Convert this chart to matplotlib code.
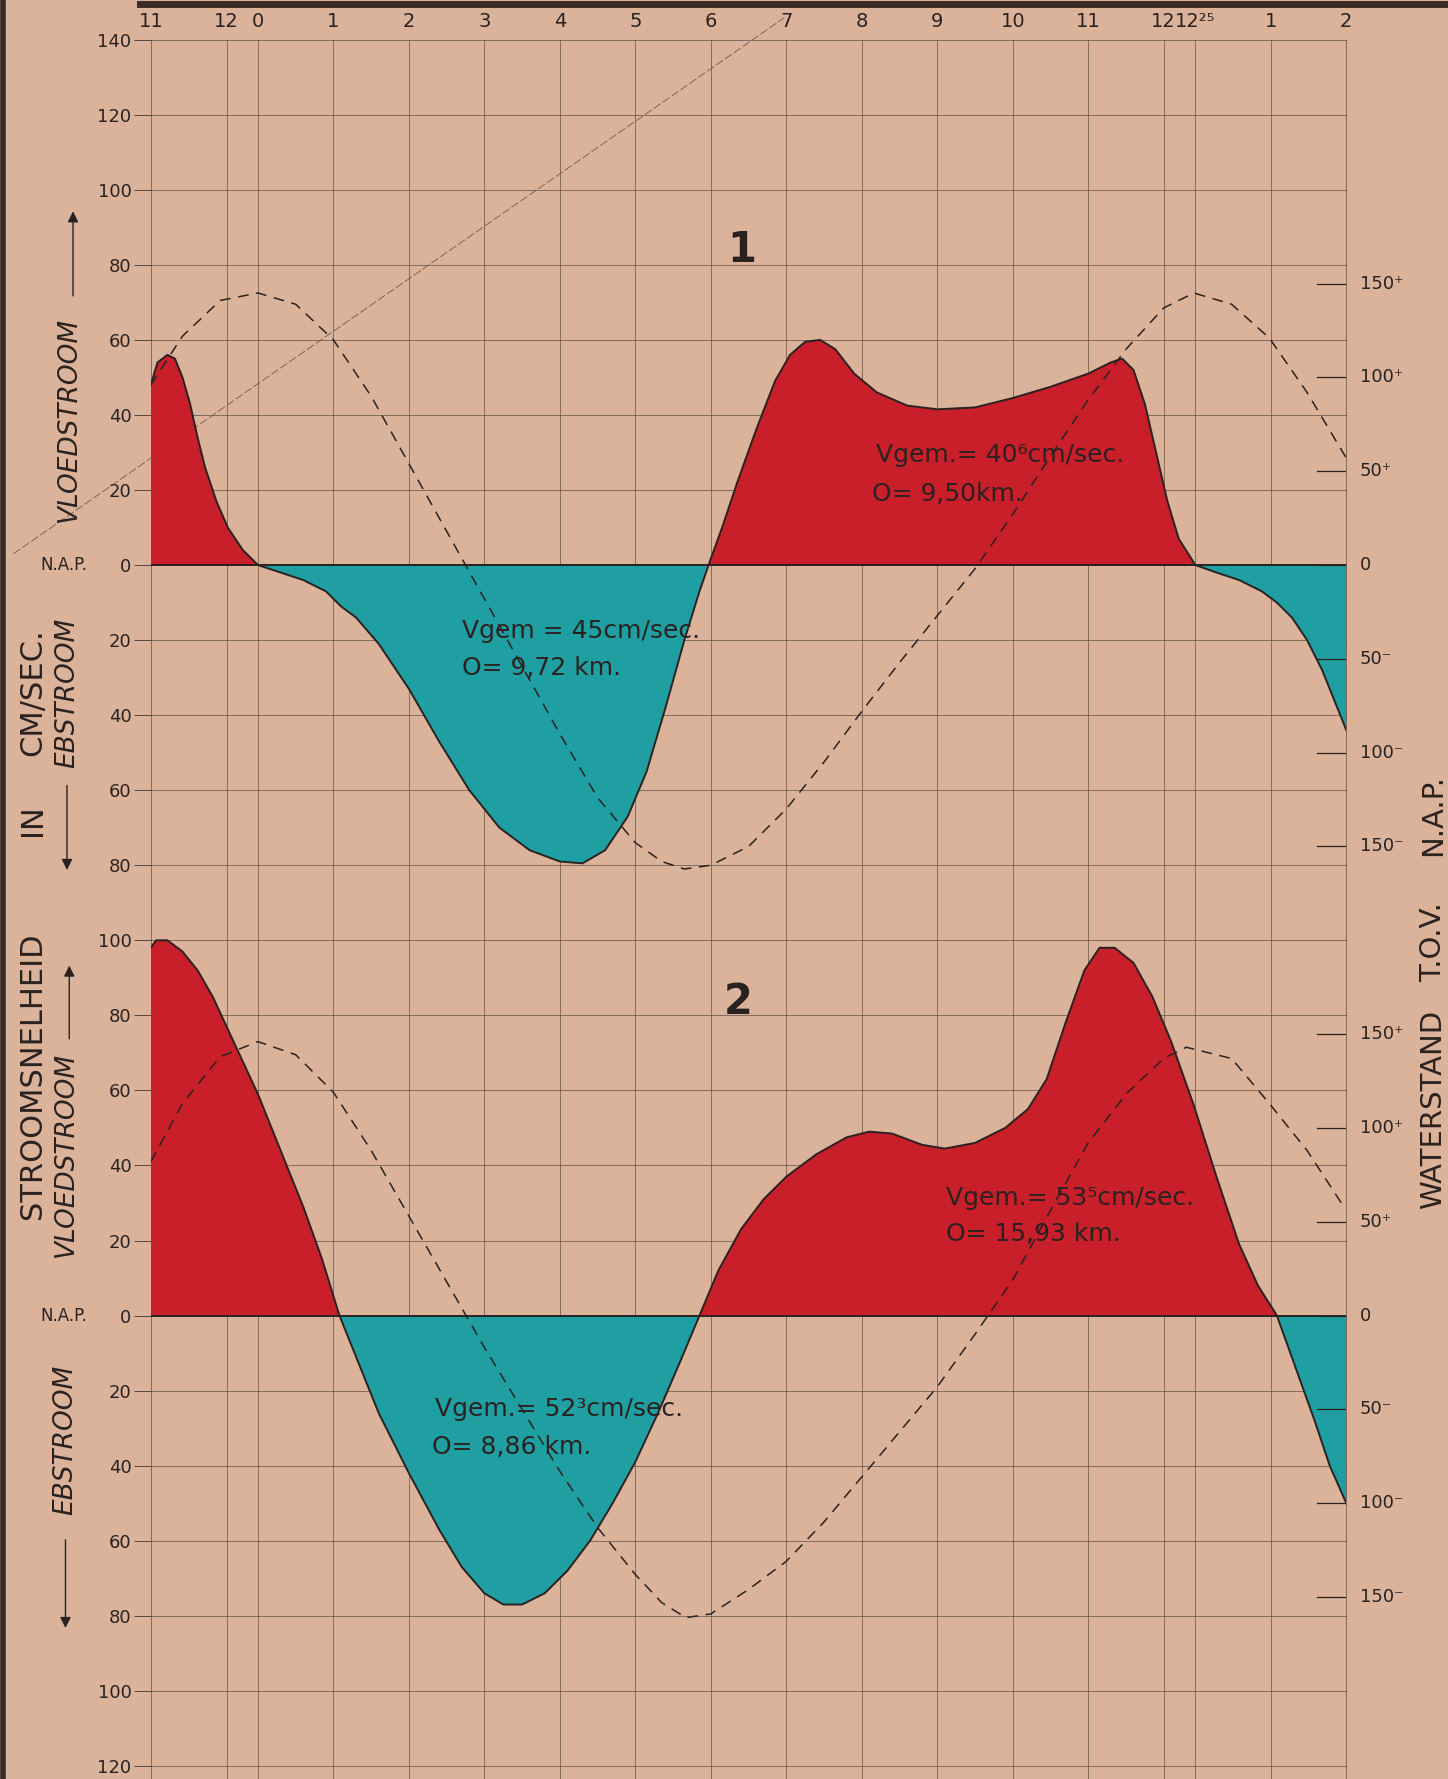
# stroomsnelheid en waterstand, 2 meetpunten
import matplotlib.pyplot as plt
from matplotlib.lines import Line2D
import numpy as np

plt.rcParams['font.family'] = ['DejaVu Sans']

# tijd in uren (0 = hoogwater), snelheid in cm/sec (+ vloed, - eb)
t1 = [-1.42, -1.33, -1.2, -1.1, -1.0, -0.9, -0.8, -0.7, -0.55, -0.4, -0.2, 0.0,
      0.3, 0.6, 0.9, 1.1, 1.3, 1.6, 2.0, 2.4, 2.8, 3.2, 3.6, 4.0, 4.3, 4.6, 4.9,
      5.15, 5.4, 5.65, 5.85, 5.97, 6.15, 6.35, 6.6, 6.85, 7.05, 7.25, 7.45, 7.65,
      7.9, 8.2, 8.6, 9.0, 9.5, 10.0, 10.5, 11.0, 11.3, 11.45, 11.6, 11.75, 11.9,
      12.05, 12.2, 12.42, 12.7, 13.0, 13.3, 13.5, 13.7, 13.9, 14.1, 14.3, 14.42]
v1 = [48, 54, 56, 55, 50, 43, 34, 26, 17, 10, 4, 0,
      -2, -4, -7, -11, -14, -21, -33, -47, -60, -70, -76, -79, -79.5, -76, -67,
      -55, -38, -20, -7, 0, 10, 22, 36, 49, 56, 59.5, 60, 57.5,
      51, 46, 42.5, 41.5, 42, 44.5, 47.5, 51, 54, 55, 52, 43, 30,
      17, 7, 0, -2, -4, -7, -10, -14, -20, -28, -38, -44]

t2 = [-1.42, -1.35, -1.2, -1.0, -0.8, -0.6, -0.3, 0.0, 0.3, 0.6, 0.85, 1.08,
      1.3, 1.6, 2.0, 2.4, 2.7, 3.0, 3.25, 3.5, 3.8, 4.1, 4.4, 4.7, 5.0, 5.3, 5.6,
      5.85, 6.1, 6.4, 6.7, 7.0, 7.4, 7.8, 8.1, 8.4, 8.8, 9.1, 9.5, 9.9, 10.2,
      10.45, 10.7, 10.95, 11.15, 11.35, 11.6, 11.85, 12.1, 12.4, 12.7, 13.0,
      13.25, 13.5, 13.75, 14.0, 14.2, 14.42]
v2 = [98, 100, 100, 97, 92, 85, 72, 59, 44, 29, 15, 0,
      -11, -26, -42, -57, -67, -74, -77, -77, -74, -68, -60, -50, -39, -26, -12,
      0, 12, 23, 31, 37, 43, 47.5, 49, 48.5, 45.5, 44.5, 46, 50, 55,
      63, 78, 92, 98, 98, 94, 85, 73, 56, 37, 19,
      8, 0, -14, -28, -40, -50]

# waterstand t.o.v. N.A.P. in cm
tw1 = [-1.42, -1.0, -0.5, 0.0, 0.5, 1.0, 1.5, 2.0, 2.5, 3.0, 3.5, 4.0, 4.5, 5.0,
       5.35, 5.65, 6.0, 6.5, 7.0, 7.5, 8.0, 8.5, 9.0, 9.5, 10.0, 10.5, 11.0,
       11.5, 12.0, 12.4, 12.9, 13.4, 13.9, 14.42]
w1 = [96, 122, 141, 145, 139, 120, 90, 54, 18, -18, -54, -90, -124, -148,
      -158, -162, -160, -150, -130, -105, -78, -52, -27, -2, 27, 58, 88,
      115, 137, 145, 139, 121, 92, 57]

tw2 = [-1.42, -1.0, -0.5, 0.0, 0.5, 1.0, 1.5, 2.0, 2.5, 3.0, 3.5, 4.0, 4.5, 5.0,
       5.35, 5.67, 6.0, 6.5, 7.0, 7.5, 8.0, 8.5, 9.0, 9.5, 10.0, 10.5, 11.0,
       11.5, 12.0, 12.3, 12.9, 13.4, 13.9, 14.37]
w2 = [82, 113, 138, 146, 139, 119, 88, 53, 18, -17, -50, -83, -113, -138,
      -153, -161, -159, -146, -131, -110, -86, -62, -38, -10, 19, 56, 92,
      118, 137, 143, 137, 113, 88, 59]

uur_pos = [-1.4167, -0.4167, 0, 1, 2, 3, 4, 5, 6, 7, 8, 9, 10, 11, 12,
           12.4167, 13.4167, 14.4167]
uur_lab = ['11', '12', '0', '1', '2', '3', '4', '5', '6', '7', '8', '9', '10',
           '11', '12', '12²⁵', '1', '2']

snelh_lab = ['140', '120', '100', '80', '60', '40', '20', '0', '20', '40', '60',
             '80', '100', '80', '60', '40', '20', '0', '20', '40', '60', '80',
             '100', '120']
ws_waarden = [150, 100, 50, 0, -50, -100, -150]
ws_lab = ['150⁺', '100⁺', '50⁺', '0', '50⁻', '100⁻', '150⁻']

nul1 = 0      # N.A.P. lijn figuur 1
nul2 = -200   # N.A.P. lijn figuur 2
ws_schaal = 0.5   # 50 cm waterstand = 25 eenheden

hulplijn_x = [-3.24, 6.97]
hulplijn_y = [3, 145.8]

bg = '#dbb39b'
rood = '#c81f2b'
blauw = '#1f9fa1'
inkt = '#2a2220'
rast = '#54463e'

fig = plt.figure(figsize=(14.48, 17.79), dpi=100, facecolor=bg)
ax = fig.add_axes([0.1043, 0.0, 0.8253, 0.9777])
ax.set_facecolor(bg)
ax.set_xlim(-1.4167, 14.4167)
ax.set_ylim(-323.5, 140)
for s in ax.spines.values():
    s.set_visible(False)

# raster
ypos = np.arange(140, -321, -20)
for y in ypos:
    ax.axhline(y, color=rast, lw=0.7, alpha=0.65, clip_on=False, zorder=1)
for x in uur_pos:
    ax.plot([x, x], [-323.5, 140], color=rast, lw=0.7, alpha=0.65, clip_on=False, zorder=1)

ax.set_yticks(ypos)
ax.set_yticklabels(snelh_lab)
ax.tick_params(axis='y', length=12, width=0.7, color=rast, pad=2, labelsize=13,
               labelcolor=inkt)
ax.xaxis.tick_top()
ax.set_xticks(uur_pos)
ax.set_xticklabels(uur_lab)
ax.tick_params(axis='x', length=0, pad=6, labelsize=14, labelcolor=inkt)

# stroomsnelheid
for t, v, nul in [(t1, v1, nul1), (t2, v2, nul2)]:
    t = np.array(t)
    v = np.array(v)
    ax.fill_between(t, nul + v, nul, where=v >= 0, interpolate=True, color=rood, lw=0, zorder=2)
    ax.fill_between(t, nul + v, nul, where=v <= 0, interpolate=True, color=blauw, lw=0, zorder=2)
    ax.plot(t, nul + v, color=inkt, lw=1.4, zorder=4)
    ax.axhline(nul, color=inkt, lw=1.4, zorder=3)

# waterstand
for t, w, nul in [(tw1, w1, nul1), (tw2, w2, nul2)]:
    ax.plot(t, nul + np.array(w) * ws_schaal, color=inkt, lw=1.1, ls=(0, (7, 5)), zorder=5)
    for wv, lab in zip(ws_waarden, ws_lab):
        ax.plot([14.03, 14.4167], [nul + wv * ws_schaal] * 2, color=inkt, lw=0.9, zorder=3)
        ax.text(14.6, nul + wv * ws_schaal, lab, fontsize=13, color=inkt, va='center', ha='left')

ax.plot(hulplijn_x, hulplijn_y, color='#6a5a50', lw=0.6, ls=(0, (10, 3)), clip_on=False, zorder=1)

# teksten
ax.text(6.41, 84, '1', fontsize=30, fontweight='bold', color=inkt, ha='center', va='center')
ax.text(6.36, -116.4, '2', fontsize=30, fontweight='bold', color=inkt, ha='center', va='center')

tk = dict(fontsize=18, color=inkt, ha='left', va='center', zorder=6)
ax.text(8.19, 29.3, 'Vgem.= 40⁶cm/sec.', **tk)
ax.text(8.14, 19, 'O= 9,50km.', **tk)
ax.text(2.71, -17.5, 'Vgem = 45cm/sec.', **tk)
ax.text(2.71, -27.5, 'O= 9,72 km.', **tk)
ax.text(9.12, -168.8, 'Vgem.= 53⁵cm/sec.', **tk)
ax.text(9.12, -178.2, 'O= 15,93 km.', **tk)
ax.text(2.34, -225, 'Vgem.= 52³cm/sec.', **tk)
ax.text(2.31, -235, 'O= 8,86 km.', **tk)

for nul in [nul1, nul2]:
    ax.text(-2.26, nul, 'N.A.P.', fontsize=12, color=inkt, ha='right', va='center')

zk = dict(fontsize=22, color=inkt, rotation=90, ha='center', va='center')
ax.text(-2.99, -136, 'STROOMSNELHEID', **zk)
ax.text(-2.99, -68, 'IN', **zk)
ax.text(-2.99, -34, 'CM/SEC.', **zk)
zk['fontsize'] = 21
ax.text(15.57, -145, 'WATERSTAND', **zk)
ax.text(15.57, -100.4, 'T.O.V.', **zk)
ax.text(15.57, -66.5, 'N.A.P.', **zk)

ik = dict(fontsize=19, color=inkt, rotation=90, ha='center', va='center', style='italic')
pijl = dict(arrowstyle='-|>', color=inkt, lw=1.0, mutation_scale=16)
ax.text(-2.5, 38.7, 'VLOEDSTROOM', **ik)
ax.annotate('', xy=(-2.45, 95), xytext=(-2.45, 71), arrowprops=pijl, annotation_clip=False)
ax.text(-2.53, -34, 'EBSTROOM', **ik)
ax.annotate('', xy=(-2.53, -82), xytext=(-2.53, -58), arrowprops=pijl, annotation_clip=False)
ax.text(-2.55, -157, 'VLOEDSTROOM', **ik)
ax.annotate('', xy=(-2.5, -106), xytext=(-2.5, -127), arrowprops=pijl, annotation_clip=False)
ax.text(-2.55, -233, 'EBSTROOM', **ik)
ax.annotate('', xy=(-2.55, -284), xytext=(-2.55, -259), arrowprops=pijl, annotation_clip=False)

# rand bovenaan
fig.add_artist(Line2D([0.097, 1.0], [0.9976, 0.9976], transform=fig.transFigure,
                      lw=5, color='#3a2c25'))
fig.add_artist(Line2D([0.002, 0.002], [0, 1], transform=fig.transFigure,
                      lw=4, color='#3a2c25'))

fig.savefig('out.png', dpi=100, facecolor=bg)
